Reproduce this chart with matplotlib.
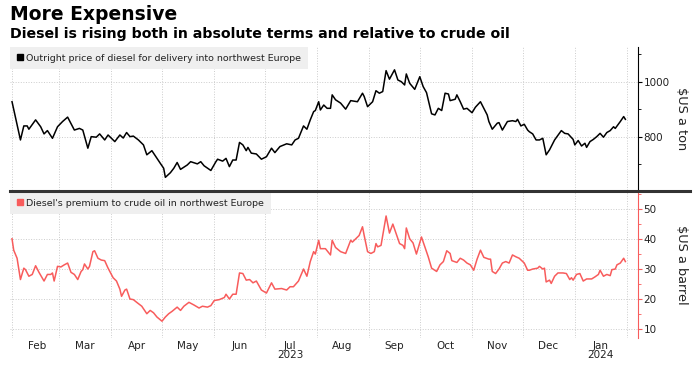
import datetime as dt

import matplotlib
matplotlib.use("Agg")
import matplotlib.dates as mdates
import matplotlib.pyplot as plt
from matplotlib.lines import Line2D
from matplotlib.ticker import FuncFormatter, MultipleLocator
import pandas as pd

plt.rcParams["font.family"] = ["DejaVu Sans"]

TITLE = "More Expensive"
SUBTITLE = "Diesel is rising both in absolute terms and relative to crude oil"
DIESEL_LABEL = "Outright price of diesel for delivery into northwest Europe"
PREMIUM_LABEL = "Diesel's premium to crude oil in northwest Europe"

# outright diesel, $/ton
diesel_dates = [
    "2023-02-01", "2023-02-06", "2023-02-08", "2023-02-10", "2023-02-11", "2023-02-15",
    "2023-02-18", "2023-02-20", "2023-02-22", "2023-02-25", "2023-02-28", "2023-03-03",
    "2023-03-06", "2023-03-10", "2023-03-13", "2023-03-15", "2023-03-18", "2023-03-20",
    "2023-03-23", "2023-03-25", "2023-03-28", "2023-03-30", "2023-04-03", "2023-04-06",
    "2023-04-08", "2023-04-10", "2023-04-12", "2023-04-14", "2023-04-17", "2023-04-20",
    "2023-04-22", "2023-04-25", "2023-04-28", "2023-04-30", "2023-05-02", "2023-05-03",
    "2023-05-06", "2023-05-08", "2023-05-10", "2023-05-12", "2023-05-16", "2023-05-18",
    "2023-05-22", "2023-05-24", "2023-05-26", "2023-05-30", "2023-06-02", "2023-06-03",
    "2023-06-06", "2023-06-08", "2023-06-10", "2023-06-12", "2023-06-14", "2023-06-16",
    "2023-06-18", "2023-06-20", "2023-06-21", "2023-06-23", "2023-06-26", "2023-06-29",
    "2023-07-02", "2023-07-05", "2023-07-07", "2023-07-10", "2023-07-14", "2023-07-17",
    "2023-07-19", "2023-07-21", "2023-07-24", "2023-07-26", "2023-07-28", "2023-07-30",
    "2023-07-31", "2023-08-02", "2023-08-03", "2023-08-05", "2023-08-07", "2023-08-09",
    "2023-08-10", "2023-08-12", "2023-08-15", "2023-08-18", "2023-08-21", "2023-08-25",
    "2023-08-28", "2023-08-29", "2023-08-31", "2023-09-03", "2023-09-05", "2023-09-07",
    "2023-09-09", "2023-09-11", "2023-09-13", "2023-09-16", "2023-09-18", "2023-09-20",
    "2023-09-22", "2023-09-23", "2023-09-25", "2023-09-28", "2023-10-01", "2023-10-03",
    "2023-10-05", "2023-10-08", "2023-10-10", "2023-10-12", "2023-10-14", "2023-10-16",
    "2023-10-18", "2023-10-19", "2023-10-22", "2023-10-23", "2023-10-25", "2023-10-27",
    "2023-10-29", "2023-11-01", "2023-11-03", "2023-11-06", "2023-11-08", "2023-11-10",
    "2023-11-11", "2023-11-13", "2023-11-16", "2023-11-17", "2023-11-19", "2023-11-22",
    "2023-11-25", "2023-11-27", "2023-11-28", "2023-11-30", "2023-12-02", "2023-12-04",
    "2023-12-05", "2023-12-07", "2023-12-09", "2023-12-11", "2023-12-13", "2023-12-15",
    "2023-12-17", "2023-12-20", "2023-12-24", "2023-12-26", "2023-12-28", "2023-12-31",
    "2024-01-01", "2024-01-03", "2024-01-05", "2024-01-07", "2024-01-08", "2024-01-10",
    "2024-01-12", "2024-01-14", "2024-01-16", "2024-01-18", "2024-01-20", "2024-01-22",
    "2024-01-24", "2024-01-25", "2024-01-28", "2024-01-30", "2024-01-31",
]
diesel_values = [
    928, 789, 840, 840, 828, 862, 837, 811, 823, 795, 837, 856,
    872, 825, 831, 825, 759, 801, 799, 811, 789, 807, 783, 807,
    796, 816, 801, 803, 789, 771, 735, 750, 722, 704, 686, 653,
    670, 686, 707, 682, 698, 710, 702, 710, 695, 678, 710, 719,
    712, 722, 692, 716, 716, 780, 771, 750, 762, 741, 738, 719,
    728, 759, 743, 765, 775, 771, 789, 795, 840, 828, 862, 892,
    896, 928, 898, 916, 904, 904, 953, 935, 923, 901, 932, 928,
    959, 947, 910, 928, 968, 959, 965, 1041, 1010, 1044, 1007, 1001,
    989, 1029, 995, 973, 1019, 983, 961, 884, 880, 904, 896, 959,
    956, 932, 937, 953, 928, 901, 904, 888, 908, 928, 904, 880,
    856, 828, 850, 852, 825, 856, 859, 856, 864, 840, 846, 825,
    819, 811, 789, 789, 795, 735, 753, 789, 823, 813, 811, 791,
    771, 787, 767, 777, 762, 783, 791, 801, 813, 799, 816, 823,
    837, 831, 856, 874, 864,
]

# diesel premium to crude, $/barrel
premium_dates = [
    "2023-02-01", "2023-02-02", "2023-02-04", "2023-02-06", "2023-02-08", "2023-02-09",
    "2023-02-11", "2023-02-13", "2023-02-15", "2023-02-17", "2023-02-20", "2023-02-22",
    "2023-02-24", "2023-02-25", "2023-02-26", "2023-02-28", "2023-03-02", "2023-03-04",
    "2023-03-06", "2023-03-08", "2023-03-10", "2023-03-12", "2023-03-14", "2023-03-15",
    "2023-03-16", "2023-03-18", "2023-03-19", "2023-03-21", "2023-03-22", "2023-03-24",
    "2023-03-26", "2023-03-28", "2023-03-30", "2023-04-02", "2023-04-04", "2023-04-06",
    "2023-04-07", "2023-04-09", "2023-04-10", "2023-04-12", "2023-04-14", "2023-04-16",
    "2023-04-19", "2023-04-22", "2023-04-24", "2023-04-26", "2023-04-28", "2023-05-01",
    "2023-05-03", "2023-05-05", "2023-05-07", "2023-05-10", "2023-05-12", "2023-05-14",
    "2023-05-17", "2023-05-20", "2023-05-23", "2023-05-25", "2023-05-28", "2023-05-30",
    "2023-06-01", "2023-06-04", "2023-06-07", "2023-06-08", "2023-06-10", "2023-06-12",
    "2023-06-14", "2023-06-16", "2023-06-18", "2023-06-20", "2023-06-22", "2023-06-24",
    "2023-06-26", "2023-06-29", "2023-07-02", "2023-07-05", "2023-07-07", "2023-07-11",
    "2023-07-14", "2023-07-16", "2023-07-18", "2023-07-21", "2023-07-24", "2023-07-26",
    "2023-07-28", "2023-07-30", "2023-07-31", "2023-08-02", "2023-08-03", "2023-08-06",
    "2023-08-09", "2023-08-10", "2023-08-12", "2023-08-15", "2023-08-18", "2023-08-21",
    "2023-08-22", "2023-08-24", "2023-08-26", "2023-08-28", "2023-08-29", "2023-08-31",
    "2023-09-02", "2023-09-04", "2023-09-05", "2023-09-06", "2023-09-08", "2023-09-11",
    "2023-09-13", "2023-09-15", "2023-09-17", "2023-09-19", "2023-09-21", "2023-09-22",
    "2023-09-23", "2023-09-25", "2023-09-27", "2023-09-29", "2023-10-02", "2023-10-04",
    "2023-10-06", "2023-10-08", "2023-10-11", "2023-10-13", "2023-10-15", "2023-10-17",
    "2023-10-19", "2023-10-20", "2023-10-23", "2023-10-25", "2023-10-27", "2023-10-29",
    "2023-10-31", "2023-11-02", "2023-11-04", "2023-11-06", "2023-11-08", "2023-11-11",
    "2023-11-12", "2023-11-13", "2023-11-15", "2023-11-17", "2023-11-19", "2023-11-21",
    "2023-11-23", "2023-11-25", "2023-11-27", "2023-11-29", "2023-12-01", "2023-12-02",
    "2023-12-04", "2023-12-05", "2023-12-07", "2023-12-10", "2023-12-11", "2023-12-13",
    "2023-12-14", "2023-12-15", "2023-12-17", "2023-12-18", "2023-12-20", "2023-12-22",
    "2023-12-25", "2023-12-27", "2023-12-29", "2023-12-30", "2023-12-31", "2024-01-02",
    "2024-01-04", "2024-01-06", "2024-01-08", "2024-01-11", "2024-01-13", "2024-01-15",
    "2024-01-16", "2024-01-18", "2024-01-20", "2024-01-22", "2024-01-23", "2024-01-25",
    "2024-01-26", "2024-01-28", "2024-01-30", "2024-01-31",
]
premium_values = [
    40.1, 36.3, 33.6, 26.5, 30.3, 29.8, 27.6, 28.2, 31.1, 28.9, 26.0, 28.2,
    28.2, 28.7, 26.0, 30.9, 30.7, 31.4, 32.0, 28.9, 28.2, 26.5, 29.2, 29.8,
    31.7, 30.0, 30.9, 35.8, 36.1, 33.6, 33.0, 32.8, 30.3, 27.1, 26.0, 23.3,
    20.9, 23.0, 23.3, 20.0, 19.8, 18.9, 17.6, 15.1, 16.2, 15.4, 14.0, 12.6,
    14.0, 15.1, 15.9, 17.3, 16.2, 17.6, 18.9, 18.0, 17.0, 17.6, 17.3, 17.8,
    19.5, 19.8, 20.5, 21.6, 20.0, 21.6, 21.6, 28.7, 28.5, 26.3, 26.5, 25.4,
    26.0, 23.0, 22.0, 25.4, 23.3, 23.5, 23.0, 24.1, 24.1, 26.0, 30.0, 27.6,
    32.5, 35.8, 35.0, 39.6, 36.8, 36.8, 34.7, 39.6, 37.2, 35.8, 35.2, 39.6,
    39.0, 40.1, 41.2, 44.1, 41.2, 35.8, 35.2, 35.8, 38.5, 37.4, 37.9, 47.7,
    42.0, 45.0, 41.7, 38.5, 37.9, 36.8, 43.7, 40.1, 38.7, 35.0, 40.7, 37.4,
    34.1, 30.3, 29.2, 31.4, 32.5, 36.1, 35.2, 32.8, 32.2, 33.6, 33.0, 32.0,
    31.4, 29.6, 33.3, 36.3, 33.9, 33.3, 33.3, 29.2, 28.5, 30.0, 32.0, 32.5,
    32.0, 34.7, 34.1, 33.6, 32.5, 32.0, 29.6, 29.6, 30.0, 30.3, 30.9, 30.0,
    30.3, 25.7, 26.3, 25.2, 27.6, 28.7, 28.7, 28.5, 26.5, 27.1, 26.3, 28.2,
    28.5, 26.0, 26.7, 26.7, 27.4, 28.2, 29.6, 27.6, 28.2, 27.8, 29.8, 30.0,
    31.4, 32.0, 33.6, 32.5,
]

diesel_ticks = [800, 1000]
premium_ticks = [10, 20, 30, 40, 50]

RED = "#f85c5c"
GRID = "#cccccc"
TEXT = "#222222"

W, H = 700, 366


def box(left, top, right, bottom):
    return [left / W, 1 - bottom / H, (right - left) / W, (bottom - top) / H]


fig = plt.figure(figsize=(7, 3.66), dpi=100)
ax1 = fig.add_axes(box(10, 47, 638, 190))
ax2 = fig.add_axes(box(10, 192, 638, 338))

x_left = mdates.date2num(dt.datetime(2023, 2, 1)) - 1.2
x_right = mdates.date2num(dt.datetime(2024, 2, 1)) + 6.5


def month_label(x, pos):
    d = mdates.num2date(x)
    s = d.strftime("%b")
    if d.month in (1, 7):
        s += "\n" + str(d.year)
    return s


for ax in (ax1, ax2):
    ax.set_xlim(x_left, x_right)
    ax.xaxis.set_major_locator(mdates.MonthLocator())
    ax.xaxis.set_major_formatter(FuncFormatter(lambda x, pos: ""))
    ax.xaxis.set_minor_locator(mdates.MonthLocator(bymonthday=16))
    ax.xaxis.set_minor_formatter(FuncFormatter(month_label))
    ax.tick_params(axis="x", which="both", length=0, labelsize=7.5,
                   labelcolor=TEXT, pad=2)
    ax.grid(which="major", color=GRID, linestyle=":", linewidth=0.7)
    ax.set_axisbelow(True)
    ax.yaxis.tick_right()
    ax.yaxis.set_label_position("right")
    for side in ("left", "top", "bottom"):
        ax.spines[side].set_visible(False)

ax1.tick_params(axis="x", which="both", labelbottom=False)
for lbl in ax2.xaxis.get_minorticklabels():
    lbl.set_linespacing(0.95)

ax1.plot(pd.to_datetime(diesel_dates), diesel_values, color="black", lw=1.1)
ax1.set_ylim(607, 1127)
ax1.set_yticks(diesel_ticks)
ax1.yaxis.set_minor_locator(MultipleLocator(100))
ax1.tick_params(axis="y", which="both", colors="black", labelcolor=TEXT,
                labelsize=7.5, pad=1)
ax1.tick_params(axis="y", which="major", length=3)
ax1.tick_params(axis="y", which="minor", length=2)
ax1.spines["right"].set_color("black")
ax1.set_ylabel("\\$US a ton", rotation=270, fontsize=9.3, color=TEXT, va="center")
ax1.yaxis.set_label_coords((682 - 10) / 628, 0.5)

ax2.plot(pd.to_datetime(premium_dates), premium_values, color=RED, lw=1.1)
ax2.set_ylim(7, 55.7)
ax2.set_yticks(premium_ticks)
ax2.yaxis.set_minor_locator(MultipleLocator(5))
ax2.tick_params(axis="y", which="both", colors=RED, labelcolor=TEXT,
                labelsize=7.5, pad=1)
ax2.tick_params(axis="y", which="major", length=3)
ax2.tick_params(axis="y", which="minor", length=2)
ax2.spines["right"].set_color(RED)
ax2.set_ylabel("\\$US a barrel", rotation=270, fontsize=9.3, color=TEXT, va="center")
ax2.yaxis.set_label_coords((682 - 10) / 628, 0.5)

for ax, color, label in ((ax1, "black", DIESEL_LABEL), (ax2, RED, PREMIUM_LABEL)):
    handle = Line2D([], [], marker="s", color=color, linestyle="none", markersize=4.8)
    leg = ax.legend([handle], [label], loc="upper left", bbox_to_anchor=(0, 1),
                    borderaxespad=0, frameon=True, fancybox=False, framealpha=1,
                    facecolor="#efefef", edgecolor="none", fontsize=6.8,
                    handlelength=0.7, handletextpad=0.3, borderpad=0.7)
    for t in leg.get_texts():
        t.set_color(TEXT)

# heavy separator between the two panels
fig.add_artist(Line2D([10 / W, 690 / W], [1 - 191 / H] * 2, color="#333333",
                      lw=2.2, transform=fig.transFigure))

fig.text(10 / W, 1 - 15 / H, TITLE, fontsize=13.5, weight="bold", va="center")
fig.text(10 / W, 1 - 34 / H, SUBTITLE, fontsize=10.2, weight="bold", va="center")

fig.savefig("out.png", dpi=100)
